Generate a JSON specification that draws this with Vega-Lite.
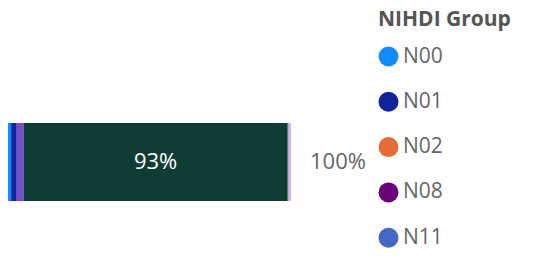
{
  "$schema": "https://vega.github.io/schema/vega-lite/v6.json",
  "width": 283,
  "height": 78,
  "autosize": "none",
  "padding": {"left": 8, "top": 123, "right": 261, "bottom": 59},
  "background": "white",
  "config": {"view": {"stroke": null}},
  "data": {
    "values": [
      {"group": "N00", "ord": 1, "value": 0.011, "label": ""},
      {"group": "N01", "ord": 2, "value": 0.020, "label": ""},
      {"group": "N13", "ord": 3, "value": 0.025, "label": ""},
      {"group": "N16", "ord": 4, "value": 0.931, "label": "93%"},
      {"group": "N17", "ord": 5, "value": 0.004, "label": ""},
      {"group": "N19", "ord": 6, "value": 0.0045, "label": ""},
      {"group": "N21", "ord": 7, "value": 0.0045, "label": ""}
    ]
  },
  "encoding": {
    "y": {"datum": "row", "type": "nominal", "scale": {"paddingInner": 0, "paddingOuter": 0}, "axis": null}
  },
  "layer": [
    {
      "mark": {"type": "bar"},
      "encoding": {
        "x": {"field": "value", "type": "quantitative", "stack": "zero", "scale": {"domain": [0, 1]}, "axis": null},
        "color": {
          "field": "group",
          "type": "nominal",
          "scale": {
            "domain": ["N00", "N01", "N02", "N08", "N11", "N13", "N16", "N17", "N19", "N21"],
            "range": ["#118DFF", "#12239E", "#E66C37", "#6B007B", "#4767C4", "#744EC2", "#0F3D36", "#1E6B2C", "#B5A1FF", "#F2A8D6"]
          },
          "legend": {
            "values": ["N00", "N01", "N02", "N08", "N11"],
            "title": "NIHDI Group",
            "orient": "none",
            "legendX": 370,
            "legendY": -114,
            "padding": 0,
            "titleFont": "Open Sans",
            "titleFontSize": 21,
            "titleFontWeight": "bold",
            "titleColor": "#555555",
            "titlePadding": 16,
            "labelFont": "Open Sans",
            "labelFontSize": 21,
            "labelColor": "#666666",
            "labelOffset": 4,
            "symbolType": "circle",
            "symbolSize": 400,
            "symbolStrokeWidth": 0,
            "symbolOpacity": 1,
            "rowPadding": 23.3
          }
        },
        "order": {"field": "ord", "type": "quantitative"}
      }
    },
    {
      "mark": {"type": "text", "font": "Open Sans", "fontSize": 22, "color": "white"},
      "encoding": {
        "x": {"field": "value", "type": "quantitative", "stack": "zero", "bandPosition": 0.5},
        "text": {"field": "label"},
        "order": {"field": "ord", "type": "quantitative"}
      }
    },
    {
      "transform": [{"aggregate": [{"op": "sum", "field": "value", "as": "total"}]}],
      "mark": {"type": "text", "font": "Open Sans", "fontSize": 22, "color": "#666666", "align": "left", "dx": 19},
      "encoding": {
        "x": {"field": "total", "type": "quantitative"},
        "text": {"field": "total", "format": ".0%"}
      }
    }
  ]
}
